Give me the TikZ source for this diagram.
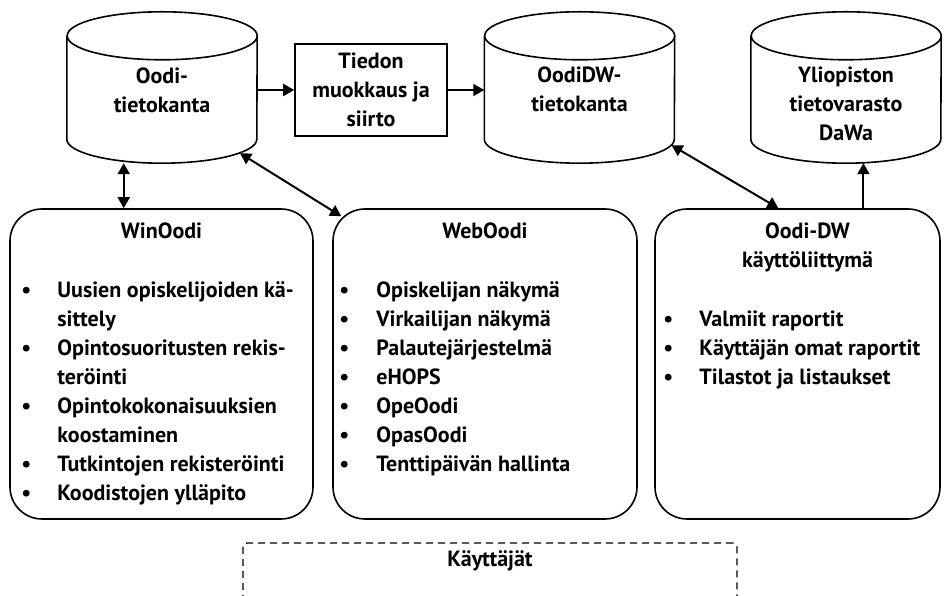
\documentclass[tikz,border=0pt]{standalone}
\usepackage{fontspec}
\setmainfont{PT Sans}
\usetikzlibrary{positioning}
\usetikzlibrary{arrows.meta}
\usetikzlibrary{calc}

\begin{document}
\begin{tikzpicture}[x=1pt, y=1pt,
        every node/.style={font=\bfseries\fontsize{22}{29}\selectfont},
        db/.style={minimum width=190pt,
            minimum height=151pt,
            inner sep=0pt},
        dbline/.style={draw=black, line width=1.6pt},
        dblabel/.style={anchor=north, align=center, inner sep=0pt},
        panel/.style={draw=black,
            line width=1.6pt,
            rounded corners=32pt,
            minimum height=310pt},
        biarrow/.style={line width=2pt,
            {Triangle[length=11pt,width=12pt]}-{Triangle[length=11pt,width=12pt]}},
        arrow/.style={line width=2pt,
            -{Triangle[length=11pt,width=12pt]}},
        bulletlist/.style={anchor=north west, align=left, inner sep=0pt}]

        \useasboundingbox (0,0) rectangle (951,596);

        \node[db] (oodi) at (162,508.5) {};
        \node[db] (oodidw) at (579.5,508.5) {};
        \node[db] (dawa) at (846,508.5) {};

        \foreach \db in {oodi, oodidw, dawa}
        {
            \draw[dbline]
            ($(\db.north west)+(0,-24)$) -- ($(\db.south west)+(0,24)$)
            arc[start angle=180, end angle=360, x radius=95, y radius=24]
            -- ($(\db.north east)+(0,-24)$)
            arc[start angle=0, end angle=360, x radius=95, y radius=24];
        }

        \node[dblabel] (oodilabel) at ($(oodi.north)+(0,-56)$) {Oodi-\\tietokanta};
        \node[dblabel] (oodidwlabel) at ($(oodidw.north)+(0,-55)$) {OodiDW-\\tietokanta};
        \node[dblabel] (dawalabel) at ($(dawa.north)+(0,-55)$) {Yliopiston\\tietovarasto\\DaWa};

        \node[draw=black,
            line width=1.6pt,
            minimum width=152pt,
            minimum height=92pt,
            align=center,
            inner sep=0pt]
        (xfer) at (371,506) {Tiedon\\muokkaus ja\\siirto};

        \node[panel, minimum width=303pt] (win) at (161.5,232) {};
        \node[panel, minimum width=304pt] (web) at (485,232) {};
        \node[panel, minimum width=285pt] (dwui) at (797.5,232) {};

        \node at ($(win.north)+(0,-23)$) (wintitle) {WinOodi};
        \node at ($(web.north)+(0,-23)$) (webtitle) {WebOodi};
        \node[align=center] at ($(dwui.north)+(10,-39)$) (dwuititle)
        {Oodi-DW\\käyttöliittymä};

        \node[bulletlist] (winlist) at ($(win.north west)+(12,-69)$)
        {\begin{tabular}{@{}p{36pt}@{}l@{}}
            \textbullet & Uusien opiskelijoiden kä-\\
                        & sittely\\
            \textbullet & Opintosuoritusten rekis-\\
                        & teröinti\\
            \textbullet & Opintokokonaisuuksien\\
                        & koostaminen\\
            \textbullet & Tutkintojen rekisteröinti\\
            \textbullet & Koodistojen ylläpito
        \end{tabular}};

        \node[bulletlist] (weblist) at ($(web.north west)+(7,-69)$)
        {\begin{tabular}{@{}p{37pt}@{}l@{}}
            \textbullet & Opiskelijan näkymä\\
            \textbullet & Virkailijan näkymä\\
            \textbullet & Palautejärjestelmä\\
            \textbullet & eHOPS\\
            \textbullet & OpeOodi\\
            \textbullet & OpasOodi\\
            \textbullet & Tenttipäivän hallinta
        \end{tabular}};

        \node[bulletlist] (dwuilist) at ($(dwui.north west)+(9,-98)$)
        {\begin{tabular}{@{}p{36pt}@{}l@{}}
            \textbullet & Valmiit raportit\\
            \textbullet & Käyttäjän omat raportit\\
            \textbullet & Tilastot ja listaukset
        \end{tabular}};

        \node[draw=black,
            line width=1.3pt,
            dash pattern=on 7pt off 5pt,
            rounded corners=4pt,
            minimum width=494pt,
            minimum height=80pt]
        (users) at (490,13) {};
        \node at ($(users.north)+(0,-19)$) (userstitle) {Käyttäjät};

        \draw[arrow] (xfer.west -| oodi.east) -- (xfer.west);
        \draw[arrow] (xfer.east) -- (xfer.east -| oodidw.west);

        \coordinate (winport) at ($(win.north west)!0.376!(win.north east)$);
        \draw[biarrow] (oodi.south -| winport) -- (winport);

        \draw[biarrow] ($(oodi.south)+(78,10)$) -- ($(web.north west)+(9,-8)$);
        \draw[biarrow] ($(oodidw.south)+(92,18)$) -- (dwui.97);

        \coordinate (dwport) at ($(dwui.north west)!0.73!(dwui.north east)$);
        \draw[arrow] (dwport) -- (dwport |- dawa.south);
\end{tikzpicture}
\end{document}
